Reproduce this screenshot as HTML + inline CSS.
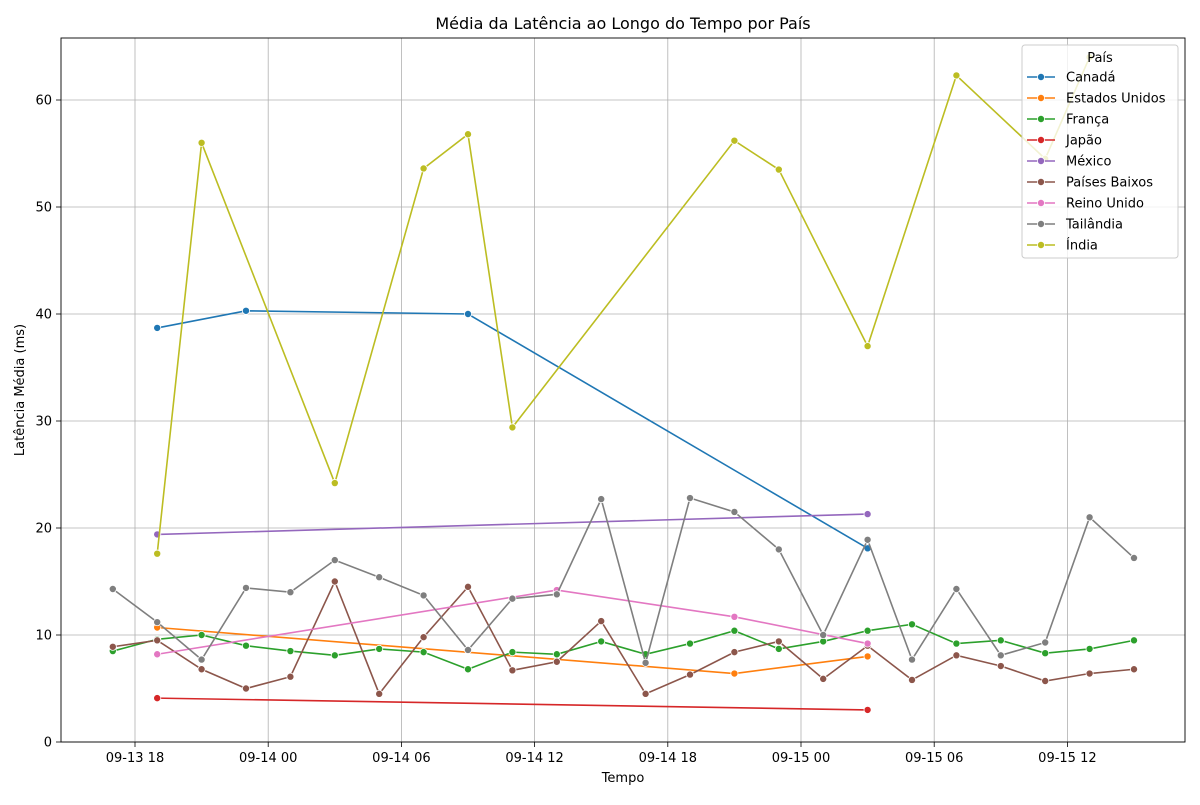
<!DOCTYPE html>
<html><head><meta charset="utf-8"><style>
body{margin:0;background:#fff;font-family:"Liberation Sans","DejaVu Sans",sans-serif}
svg text{font-family:"DejaVu Sans","Liberation Sans",sans-serif}
</style></head><body>
<svg id="chart" width="1200" height="800" xmlns="http://www.w3.org/2000/svg"></svg>
<script>
const categories=["Canadá","Estados Unidos","França","Japão","México","Países Baixos","Reino Unido","Tailândia","Índia"];
const colors=["#1f77b4","#ff7f0e","#2ca02c","#d62728","#9467bd","#8c564b","#e377c2","#7f7f7f","#bcbd22"];
const hoursAll=[-1,1,3,5,7,9,11,13,15,17,19,21,23,25,27,29,31,33,35,37,39,41,43,45];
const canadaH=[1,5,15,33], canadaV=[38.7,40.3,40.0,18.1];
const usaH=[1,27,33], usaV=[10.7,6.4,8.0];
const francaV=[8.5,9.6,10.0,9.0,8.5,8.1,8.7,8.4,6.8,8.4,8.2,9.4,8.2,9.2,10.4,8.7,9.4,10.4,11.0,9.2,9.5,8.3,8.7,9.5];
const japaoH=[1,33], japaoV=[4.1,3.0];
const mexicoH=[1,33], mexicoV=[19.4,21.3];
const paisesV=[8.9,9.5,6.8,5.0,6.1,15.0,4.5,9.8,14.5,6.7,7.5,11.3,4.5,6.3,8.4,9.4,5.9,9.0,5.8,8.1,7.1,5.7,6.4,6.8];
const ukH=[1,19,27,33], ukV=[8.2,14.2,11.7,9.2];
const tailV=[14.3,11.2,7.7,14.4,14.0,17.0,15.4,13.7,8.6,13.4,13.8,22.7,7.4,22.8,21.5,18.0,10.0,18.9,7.7,14.3,8.1,9.3,21.0,17.2];
const indiaH=[1,3,9,13,15,17,27,29,33,37,41,43], indiaV=[17.6,56.0,24.2,53.6,56.8,29.4,56.2,53.5,37.0,62.3,54.5,64];
const xTickH=[0,6,12,18,24,30,36,42];
const xTickLabels=["09-13 18","09-14 00","09-14 06","09-14 12","09-14 18","09-15 00","09-15 06","09-15 12"];
const yTicks=[0,10,20,30,40,50,60];
const series=[[canadaH,canadaV],[usaH,usaV],[hoursAll,francaV],[japaoH,japaoV],[mexicoH,mexicoV],[hoursAll,paisesV],[ukH,ukV],[hoursAll,tailV],[indiaH,indiaV]];
const L=61,R=1185,T=38,B=742;
const x=h=>135+h*22.2, y=v=>742-v*10.7;
const svg=document.getElementById('chart');const NS="http://www.w3.org/2000/svg";
function mk(t,a,p){const e=document.createElementNS(NS,t);for(const k in a)e.setAttribute(k,a[k]);(p||svg).appendChild(e);return e;}
const grid=mk('g',{});


xTickH.forEach((h,i)=>{
 mk('line',{x1:x(h),x2:x(h),y1:T,y2:B,stroke:'#b0b0b0','stroke-width':0.8},grid);
 mk('line',{x1:x(h),x2:x(h),y1:B,y2:B+5,stroke:'#000','stroke-width':0.8});
 const t=mk('text',{x:x(h),y:B+20,'text-anchor':'middle','font-size':13});t.textContent=xTickLabels[i];
 
 
});
yTicks.forEach(v=>{
 mk('line',{x1:L,x2:R,y1:y(v),y2:y(v),stroke:'#b0b0b0','stroke-width':0.8},grid);
 mk('line',{x1:L-5,x2:L,y1:y(v),y2:y(v),stroke:'#000','stroke-width':0.8});
 const t=mk('text',{x:L-9,y:y(v)+4.5,'text-anchor':'end','font-size':13});t.textContent=v;
 
 
});
series.forEach((s,i)=>{
 const g=mk('g',{});
 
 
 const pts=s[0].map((h,j)=>x(h)+','+y(s[1][j])).join(' ');
 mk('polyline',{points:pts,fill:'none',stroke:colors[i],'stroke-width':1.6},g);
 s[0].forEach((h,j)=>{const c=mk('circle',{cx:x(h),cy:y(s[1][j]),r:3.6,fill:colors[i],stroke:'#fff','stroke-width':0.8},g);
  
  });
});
mk('rect',{x:L,y:T,width:R-L,height:B-T,fill:'none',stroke:'#000','stroke-width':0.9});
let t=mk('text',{x:623,y:29,'text-anchor':'middle','font-size':16});t.textContent="Média da Latência ao Longo do Tempo por País";

t=mk('text',{x:623,y:782,'text-anchor':'middle','font-size':13});t.textContent="Tempo";

t=mk('text',{x:24,y:390,'text-anchor':'middle','font-size':13,transform:'rotate(-90 24 390)'});t.textContent="Latência Média (ms)";

const lg=mk('g',{});


mk('rect',{x:1022,y:45,width:156,height:213,rx:3,fill:'#fff','fill-opacity':0.8,stroke:'#ccc'},lg);
t=mk('text',{x:1100,y:62,'text-anchor':'middle','font-size':13},lg);t.textContent="País";
categories.forEach((c,i)=>{
 const yy=77+i*21;
 const e=mk('g',{},lg);
 
 
 mk('line',{x1:1027,x2:1055,y1:yy,y2:yy,stroke:colors[i],'stroke-width':1.6},e);
 mk('circle',{cx:1041,cy:yy,r:3.6,fill:colors[i],stroke:'#fff','stroke-width':0.8},e);
 const tt=mk('text',{x:1066,y:yy+4.5,'font-size':13},e);tt.textContent=c;
});
</script>
</body></html>
